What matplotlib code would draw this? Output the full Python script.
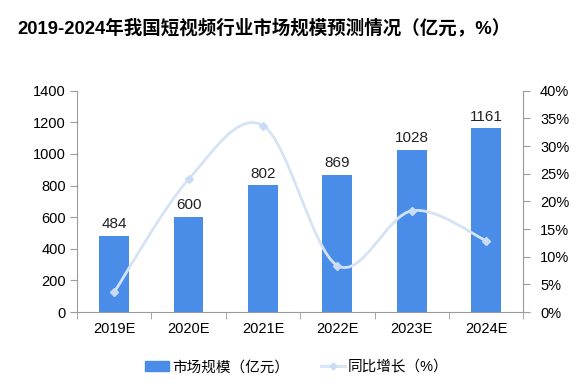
import numpy as np
import matplotlib
matplotlib.use("Agg")
import matplotlib.pyplot as plt
from matplotlib.path import Path
from matplotlib.patches import PathPatch
from matplotlib.lines import Line2D
from matplotlib.patches import Patch

plt.rcParams['font.family'] = ['Liberation Sans', 'Noto Sans CJK SC', 'DejaVu Sans']

years = ['2019E', '2020E', '2021E', '2022E', '2023E', '2024E']
market_size = [484, 600, 802, 869, 1028, 1161]
growth = [3.6, 24.0, 33.7, 8.4, 18.3, 12.9]

bar_color = '#4A8DE8'
line_color = '#D5E3F5'
spine_color = '#9A9A9A'

fig = plt.figure(figsize=(5.88, 3.92), dpi=100)
ax = fig.add_axes([0.131, 0.204, 0.759, 0.5646])
ax2 = ax.twinx()

x = np.arange(len(years))
ax.bar(x, market_size, width=0.4, color=bar_color, zorder=2)
for xi, v in zip(x, market_size):
    ax.text(xi, v + 30, str(v), ha='center', va='bottom', fontsize=11, color='#222222')

ax.set_xlim(-0.5, len(years) - 0.5)
ax.set_ylim(0, 1400)
ax.set_yticks(range(0, 1401, 200))
ax.set_xticks(x)
ax.set_xticklabels(years)
ax.set_xticks(np.arange(-0.5, len(years)), minor=True)
ax.tick_params(axis='x', which='major', length=0, pad=7, labelsize=10.5)
ax.tick_params(axis='x', which='minor', length=5, color=spine_color)
ax.tick_params(axis='y', length=5, color=spine_color, pad=3, labelsize=10.5)

ax2.set_ylim(0, 40)
ax2.set_yticks(range(0, 41, 5))
ax2.set_yticklabels([f'{t}%' for t in range(0, 41, 5)])
ax2.tick_params(axis='y', length=5, color=spine_color, pad=7, labelsize=10.5)

for a in (ax, ax2):
    a.spines['top'].set_visible(False)
    for s in ('left', 'right', 'bottom'):
        a.spines[s].set_color(spine_color)
ax2.spines['bottom'].set_visible(False)
ax2.spines['left'].set_visible(False)
ax.spines['right'].set_visible(False)

# smoothed line like Excel (Catmull-Rom -> cubic bezier)
pts = np.column_stack([x, growth]).astype(float)
verts = [tuple(pts[0])]
codes = [Path.MOVETO]
n = len(pts)
for i in range(n - 1):
    p0 = pts[max(i - 1, 0)]
    p1 = pts[i]
    p2 = pts[i + 1]
    p3 = pts[min(i + 2, n - 1)]
    c1 = p1 + (p2 - p0) / 6
    c2 = p2 - (p3 - p1) / 6
    verts += [tuple(c1), tuple(c2), tuple(p2)]
    codes += [Path.CURVE4] * 3
ax2.add_patch(PathPatch(Path(verts, codes), fill=False, edgecolor=line_color, lw=2, zorder=3))
ax2.plot(x, growth, linestyle='none', marker='D', markersize=4.5, color='#CADCF3', zorder=4)

fig.text(0.029, 0.928, '2019-2024年我国短视频行业市场规模预测情况（亿元，%）',
         fontsize=13.3, fontweight='bold', va='center', ha='left')

handles = [Patch(color=bar_color),
           Line2D([0], [0], color=line_color, lw=2, marker='D', markersize=3.5,
                  markerfacecolor='#CADCF3', markeredgecolor='#CADCF3')]
fig.legend(handles, ['市场规模（亿元）', '同比增长（%）'], loc='center',
           bbox_to_anchor=(0.505, 0.063), ncol=2, frameon=False, fontsize=10.5,
           handlelength=1.65, handleheight=0.7, handletextpad=0.2, columnspacing=2.2)

fig.savefig('out.png', dpi=100)
